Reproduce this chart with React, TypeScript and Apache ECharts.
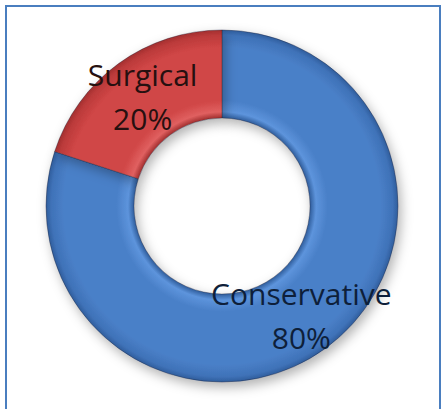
import React, { useEffect, useRef } from "react";
import * as echarts from "echarts";

const categories = ["Conservative", "Surgical"];
const values = [80, 20];
const labelColors = ["#0e1f3a", "#261010"];

const CX = 222;
const CY = 206;
const R_OUT = 176;
const R_IN = 88;

function ringGradient(dark: string, light: string, base: string, edge: string) {
  return {
    type: "radial",
    x: CX,
    y: CY,
    r: R_OUT,
    global: true,
    colorStops: [
      { offset: 0, color: dark },
      { offset: 0.5, color: dark },
      { offset: 0.535, color: light },
      { offset: 0.6, color: base },
      { offset: 0.9, color: base },
      { offset: 0.97, color: edge },
      { offset: 1, color: dark },
    ],
  };
}

const sliceFills = [
  ringGradient("#2f5d9c", "#5d94dc", "#4a80c8", "#3f72b8"),
  ringGradient("#a22f2f", "#e06060", "#d04646", "#bb3a3a"),
];

export default function App() {
  const ref = useRef<HTMLDivElement>(null);
  useEffect(() => {
    if (!ref.current) return;
    const chart = echarts.init(ref.current, undefined, { renderer: "svg" });
    chart.setOption({
      animation: false,
      backgroundColor: "#ffffff",
      graphic: [
        {
          type: "rect",
          shape: { x: 6, y: 6, width: 434, height: 430 },
          style: { fill: "none", stroke: "#4A7EBF", lineWidth: 2 },
          z: 0,
        },
      ],
      series: [
        {
          type: "pie",
          center: [CX, CY],
          radius: [R_IN, R_OUT],
          startAngle: 90,
          clockwise: true,
          avoidLabelOverlap: false,
          label: {
            show: true,
            position: "inside",
            formatter: "{b}\n{c}%",
            fontFamily: "Open Sans",
            fontSize: 30,
            lineHeight: 44,
            align: "center",
          },
          labelLine: { show: false },
          itemStyle: {
            borderColor: "rgba(30,30,50,0.35)",
            borderWidth: 1,
            shadowBlur: 12,
            shadowOffsetX: 3,
            shadowOffsetY: 5,
            shadowColor: "rgba(0,0,0,0.3)",
          },
          emphasis: { disabled: true },
          data: categories.map((name, i) => ({
            name,
            value: values[i],
            itemStyle: { color: sliceFills[i] },
            label: { color: labelColors[i] },
          })),
        },
      ],
    });
    return () => chart.dispose();
  }, []);
  return (
    <div
      ref={ref}
      style={{ position: "absolute", left: 0, top: 0, width: 442, height: 409 }}
    />
  );
}
